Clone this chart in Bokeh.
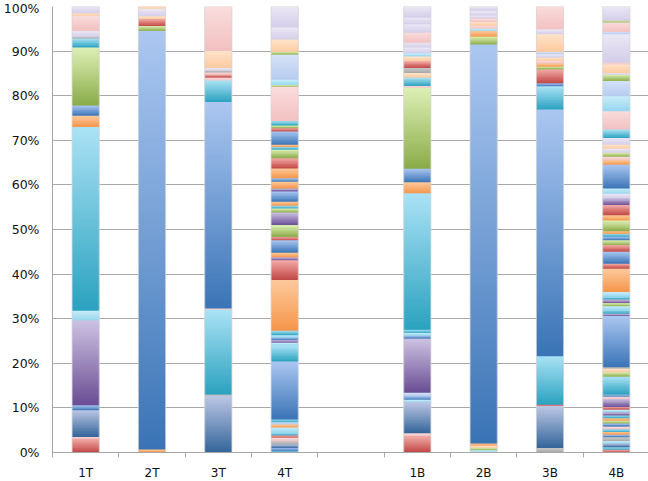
import math
from bokeh.plotting import figure
from bokeh.models import ColumnDataSource, FixedTicker, Range1d
from bokeh.embed import file_html
from bokeh.resources import INLINE

categories = ["1T", "2T", "3T", "4T", "", "1B", "2B", "3B", "4B"]

# segment sizes (percent of bar), bottom to top, with a colour family for each segment
h_1T = [3.1, 0.4, 6.0, 1.1, 19.0, 2.2, 41.2, 2.5, 2.3, 13.0, 2.0, 0.4, 1.3, 3.4, 0.6, 1.5]
c_1T = "R K S B P C T O B G T Y L K E L".split()

h_2T = [0.7, 93.8, 1.1, 1.6, 0.6, 1.7, 0.5]
c_2T = "O B G R E L E".split()

h_3T = [12.7, 0.3, 19.0, 0.3, 46.3, 4.8, 0.6, 0.7, 0.5, 0.4, 0.6, 3.8, 10.0]
c_3T = "S Y T K B T K R K Y L E K".split()

h_4T = [0.3, 0.7, 0.8, 0.7, 0.8, 0.5, 0.6, 1.2, 0.7, 0.5, 0.6, 13.0, 3.5, 0.7, 0.6,
        0.6, 0.5, 1.0, 11.4, 4.4, 0.7, 1.0, 2.8, 0.7, 2.7, 2.8, 0.9, 0.6, 0.9, 2.3,
        0.7, 1.5, 0.8, 2.2, 2.3, 1.9, 0.6, 0.5, 3.0, 0.7, 0.6, 1.0, 7.7, 0.4, 1.2,
        5.6, 0.6, 2.8, 2.7, 4.7]
c_4T = ("T B S Y K R T C O V T B T C P B C T O R P O B R G P G T O B "
        "P O B O R G T O B R G T K G C V G E L L").split()

h_gap = []
c_gap = []

h_1B = [3.7, 0.6, 7.0, 0.5, 0.8, 0.8, 12.1, 0.7, 0.6, 0.7, 30.6, 2.5, 3.0, 18.2, 0.4,
        1.8, 1.1, 1.1, 1.5, 1.1, 0.7, 1.3, 1.1, 2.2, 1.9, 1.5, 2.5]
c_1B = "R K S C B V P B C T T O B G K T E Y R E C L L K L L L".split()

h_2B = [0.5, 0.5, 0.5, 0.5, 89.5, 1.7, 1.3, 0.5, 0.7, 0.8, 0.8, 0.7, 1.0, 1.0]
c_2B = "C G E O B G O C K E K L L L".split()

h_3B = [1.0, 9.4, 0.3, 10.9, 55.3, 5.2, 0.7, 3.1, 0.6, 0.7, 0.6, 0.7, 0.8, 0.5, 4.0, 1.1, 5.1]
c_3B = "Y S R T B T B R G O K E L V E L K".split()

h_4B = [0.6, 0.6, 0.8, 0.6, 0.8, 0.6, 0.6, 0.6, 0.6, 0.7, 0.6, 0.6, 0.6, 0.7, 0.6,
        0.6, 1.8, 0.5, 0.5, 4.0, 1.0, 0.8, 0.3, 11.5, 0.5, 0.9, 0.8, 0.7, 0.8, 0.7,
        1.0, 5.2, 1.1, 2.7, 1.5, 1.1, 0.8, 0.6, 0.6, 2.4, 1.2, 2.3, 1.5, 1.0, 1.2,
        5.3, 1.0, 0.8, 0.9, 0.9, 0.9, 1.5, 1.9, 4.1, 3.4, 3.4, 1.4, 0.4, 1.9, 0.4,
        6.4, 0.5, 2.1, 0.4, 3.2]
c_4B = ("R T S C Y B O T K B G O T P C R P K B T G E Y B P T C G P T C "
        "O R B R G B T O G O R P L C B O K G L E L T K C V G L E K L V K G L").split()

heights = [h_1T, h_2T, h_3T, h_4T, h_gap, h_1B, h_2B, h_3B, h_4B]
families = [c_1T, c_2T, c_3T, c_4T, c_gap, c_1B, c_2B, c_3B, c_4B]

# gradient (bottom colour, top colour) of each colour family
palette = {
    "B": ("#3a74b6", "#abc7f1"),
    "T": ("#2aa2bf", "#abe2f5"),
    "P": ("#6a4d94", "#cdc2e2"),
    "G": ("#8aab48", "#ddf0b6"),
    "O": ("#f5954a", "#fdca9c"),
    "R": ("#c04644", "#f3aca8"),
    "S": ("#33649a", "#bcc7e4"),
    "K": ("#f2c0c0", "#fadcdc"),
    "L": ("#d4cde9", "#ebe8f5"),
    "E": ("#fcca9f", "#fee3ca"),
    "C": ("#95d6ee", "#c9edf9"),
    "V": ("#b5cbef", "#d6e2f7"),
    "Y": ("#a5a5a5", "#cacaca"),
}


def hex_rgb(h):
    return tuple(int(h[i:i + 2], 16) for i in (1, 3, 5))


def lerp(c1, c2, t):
    a, b = hex_rgb(c1), hex_rgb(c2)
    return "#%02x%02x%02x" % tuple(round(a[i] + (b[i] - a[i]) * t) for i in range(3))


bar_width = 0.41
L, R, B, T, F = [], [], [], [], []
oL, oR, oT = [], [], []
for i, (hs, cs) in enumerate(zip(heights, families)):
    if not hs:
        continue
    total = sum(hs)
    y0 = 0.0
    xc = i + 0.5
    oL.append(xc - bar_width / 2)
    oR.append(xc + bar_width / 2)
    oT.append(100.0)
    for h, k in zip(hs, cs):
        hp = h / total * 100.0
        n = max(1, math.ceil(hp / 0.35))
        lo, hi = palette[k]
        for j in range(n):
            b = y0 + hp * j / n
            t = y0 + hp * (j + 1) / n
            L.append(xc - bar_width / 2)
            R.append(xc + bar_width / 2)
            B.append(b)
            T.append(min(t + 0.3, 100.0))  # slight overlap hides seams
            F.append(lerp(lo, hi, (j + 0.5) / n))
        y0 += hp

src = ColumnDataSource(dict(left=L, right=R, bottom=B, top=T, color=F))
outline = ColumnDataSource(dict(left=oL, right=oR, bottom=[0.0] * len(oL), top=oT))

p = figure(frame_width=597, frame_height=446, output_backend="svg", toolbar_location=None,
           x_range=Range1d(0, len(categories)), y_range=Range1d(0, 100),
           min_border_left=51, min_border_right=0, min_border_top=6, min_border_bottom=0)
p.outline_line_color = None
p.background_fill_color = "white"
p.border_fill_color = "white"

p.quad(left="left", right="right", bottom="bottom", top="top", source=src,
       fill_color="color", line_color=None)
p.quad(left="left", right="right", bottom="bottom", top="top", source=outline,
       fill_color=None, line_color="#d4d4d4", line_width=1, line_alpha=0.8)

# y axis
yticks = list(range(0, 101, 10))
p.yaxis.ticker = FixedTicker(ticks=yticks)
p.yaxis.major_label_overrides = {v: f"{v}%" for v in yticks}
p.yaxis.major_tick_out = 0
p.yaxis.major_tick_in = 0
p.yaxis.minor_tick_line_color = None
p.yaxis.major_label_standoff = 13
p.yaxis.axis_line_color = "#a6a6a6"
p.yaxis.major_label_text_font = "DejaVu Sans"
p.yaxis.major_label_text_font_size = "12.5px"
p.yaxis.major_label_text_color = "#111111"
p.ygrid.grid_line_color = "#a8a8a8"
p.ygrid.grid_line_width = 1

# x axis
centers = [i + 0.5 for i in range(len(categories))]
p.xaxis.ticker = FixedTicker(ticks=centers, minor_ticks=list(range(len(categories) + 1)))
p.xaxis.major_label_overrides = {c: name for c, name in zip(centers, categories)}
p.xaxis.major_tick_line_color = None
p.xaxis.major_tick_out = 0
p.xaxis.major_tick_in = 0
p.xaxis.minor_tick_line_color = "#a6a6a6"
p.xaxis.minor_tick_out = 5
p.xaxis.minor_tick_in = 0
p.xaxis.axis_line_color = "#a6a6a6"
p.xaxis.major_label_standoff = 8
p.xaxis.major_label_text_font = "DejaVu Sans"
p.xaxis.major_label_text_font_size = "12px"
p.xaxis.major_label_text_color = "#111111"
p.xgrid.grid_line_color = None

open("out.html", "w").write(file_html(p, INLINE))
